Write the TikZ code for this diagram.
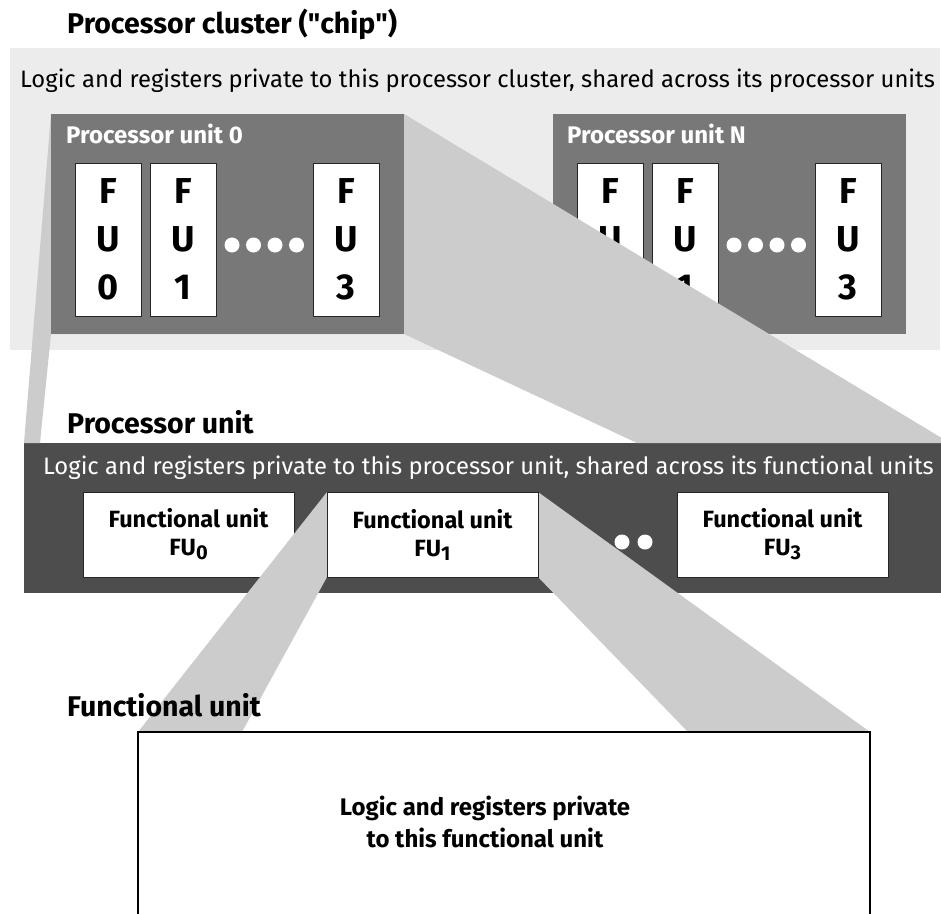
\documentclass[tikz,border=0pt]{standalone}
\usepackage{fontspec}
\setmainfont{Fira Sans}
\usetikzlibrary{calc}

\definecolor{clusterbg}{HTML}{ECECEC}
\definecolor{unitgray}{HTML}{787878}
\definecolor{zoomgray}{HTML}{CCCCCC}
\definecolor{paneldark}{HTML}{4D4D4D}

% lowered index digit, e.g. FU with subscript 0
\newcommand\fusub[1]{\raisebox{-4pt}{\fontsize{20}{20}\selectfont #1}}
% straight double quote, set as a glyph so no text mapping curls it
\newcommand\sq{\XeTeXglyph\XeTeXcharglyph"22\relax}

\tikzset{
  box/.style={rectangle, anchor=north west, inner sep=0pt, outer sep=0pt},
  heading/.style={anchor=base west, inner sep=0pt, font=\fontsize{28.5}{30}\selectfont\bfseries},
  bodytext/.style={anchor=base west, inner sep=0pt, font=\fontsize{23.8}{26}\selectfont},
  unitbox/.style={box, fill=unitgray, minimum width=353pt, minimum height=220pt},
  unitlabel/.style={anchor=base west, inner sep=0pt, text=white, font=\fontsize{24}{26}\selectfont\bfseries},
  fucol/.style={box, fill=white, draw=black!85, line width=0.9pt, minimum width=66pt,
    minimum height=153pt, align=center, font=\fontsize{36}{48}\selectfont\bfseries},
  fuwide/.style={box, fill=white, draw=black!85, line width=0.9pt, minimum width=211pt,
    minimum height=85pt, align=center, font=\fontsize{23.5}{28}\selectfont\bfseries},
  wdot/.style={circle, fill=white, inner sep=0pt, minimum size=15pt},
  zoomband/.style={fill=zoomgray},
}

\begin{document}
\begin{tikzpicture}[x=1pt,y=-1pt]
\clip (0,0) rectangle (941,913);
\fill[white] (0,0) rectangle (941,913);

% ---------- processor cluster ----------
\node[heading] (titleA) at (67,33) {Processor cluster (\sq chip\sq)};
\node[box, fill=clusterbg, minimum width=930pt, minimum height=302pt] (cluster) at (10,48) {};
\node[bodytext] (clustertext) at (20,87)
  {Logic and registers private to this processor cluster, shared across its processor units};

% processor unit N
\node[unitbox] (puN) at (553,114) {};
\node[unitlabel] (puNlab) at (567,143) {Processor unit N};
\node[fucol] (nA) at (577,163) {F\\U\\0};
\node[fucol] (nB) at (652,163) {F\\U\\1};
\node[fucol] (nC) at (815,163) {F\\U\\3};
\foreach \i/\x in {1/734,2/755.5,3/777,4/798.5}
  \node[wdot] (ndot\i) at (\x,245) {};

% ---------- processor unit panel ----------
\node[heading] (titleB) at (67,433) {Processor unit};
\node[box, fill=paneldark, minimum width=940pt, minimum height=150pt] (panel) at (24,443) {};
\node[bodytext, text=white] (paneltext) at (43,474)
  {Logic and registers private to this processor unit, shared across its functional units};

% zoom band from processor unit 0 down to the panel
\coordinate (w1outer) at (950,443);
\coordinate (w1innerR) at (637,443);
\coordinate (w1innerL) at (40,443);
\coordinate (p0nw) at (51,114);
\coordinate (p0ne) at (404,114);
\coordinate (p0se) at (404,334);
\coordinate (p0sw) at (51,334);
\fill[zoomband] (p0nw) -- (p0ne) -- (w1outer) -- (w1innerR) -- (p0se) -- (p0sw)
  -- (w1innerL) -- (panel.north west) -- cycle;

% processor unit 0
\node[unitbox] (pu0) at (p0nw) {};
\node[unitlabel] (pu0lab) at (66,143) {Processor unit 0};
\node[fucol] (zA) at (75,163) {F\\U\\0};
\node[fucol] (zB) at (150,163) {F\\U\\1};
\node[fucol] (zC) at (313,163) {F\\U\\3};
\foreach \i/\x in {1/232,2/253.5,3/275,4/296.5}
  \node[wdot] (zdot\i) at (\x,245) {};

% functional units inside the panel
\node[fuwide] (fu0) at (83,492) {Functional unit\\FU\fusub{0}};
\node[fuwide] (fu3) at (677,492) {Functional unit\\FU\fusub{3}};
\node[wdot] (pdot1) at (622,542) {};
\node[wdot] (pdot2) at (645,542) {};

% zoom band from FU1 down to the functional unit box
\coordinate (f1nw) at (327,492);
\coordinate (f1ne) at (538,492);
\coordinate (f1se) at (538,577);
\coordinate (f1sw) at (327,577);
\coordinate (bignw) at (138,732);
\coordinate (bigne) at (870,732);
\coordinate (w2innerL) at (242,732);
\coordinate (w2innerR) at (688,732);
\fill[zoomband] (f1nw) -- (f1ne) -- (bigne) -- (w2innerR) -- (f1se) -- (f1sw)
  -- (w2innerL) -- (bignw) -- cycle;

\node[fuwide] (fu1) at (f1nw) {Functional unit\\FU\fusub{1}};

% ---------- functional unit ----------
\node[heading] (titleC) at (67,716) {Functional unit};
\node[box, fill=white, draw=black, line width=2.5pt, minimum width=732pt, minimum height=220pt]
  (fubig) at (bignw) {};
\node[align=center, inner sep=0pt, font=\fontsize{24}{32}\selectfont\bfseries] (futext) at (485,822)
  {Logic and registers private\\to this functional unit};
\end{tikzpicture}
\end{document}
